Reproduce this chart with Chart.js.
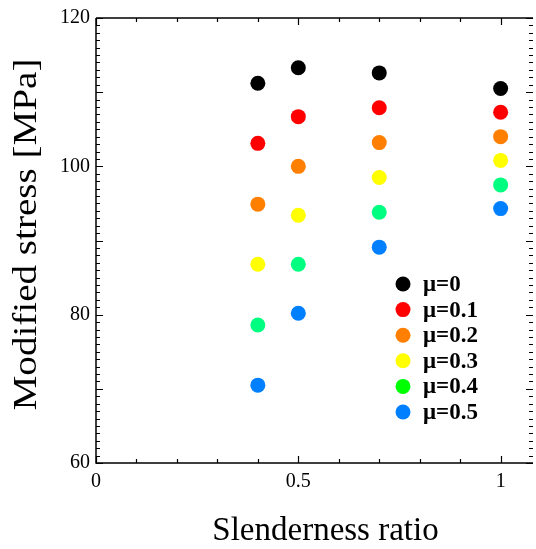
<!DOCTYPE html>
<html>
<head>
<meta charset="utf-8">
<script src="https://cdn.jsdelivr.net/npm/chart.js@4"></script>
<style>
  html, body { margin: 0; padding: 0; background: #fff; }
  #wrap { width: 536px; height: 549px; }
</style>
</head>
<body>
<div id="wrap"><canvas id="grafico"></canvas></div>
<script>
// datos
const ratios = [0.4, 0.5, 0.7, 1.0];
const mu0  = [111.2, 113.3, 112.6, 110.5];
const mu01 = [103.1, 106.7, 107.9, 107.3];
const mu02 = [94.9, 100.0, 103.2, 104.0];
const mu03 = [86.8, 93.4, 98.5, 100.8];
const mu04 = [78.6, 86.8, 93.8, 97.5];
const mu05 = [70.5, 80.2, 89.1, 94.3];

const etiquetas = ['μ=0', 'μ=0.1', 'μ=0.2', 'μ=0.3', 'μ=0.4', 'μ=0.5'];
const series = [mu0, mu01, mu02, mu03, mu04, mu05];
const colores = ['#000000', '#ff0000', '#ff8000', '#ffff00', '#00ff80', '#0080ff'];
const coloresLeyenda = ['#000000', '#ff0000', '#ff8000', '#ffff00', '#00ff00', '#0080ff'];

const xTicks = [0, 0.5, 1];
const yTicks = [60, 80, 100, 120];

const serif = "'Liberation Serif', 'Times New Roman', serif";

// marco, ticks hacia adentro, titulos y leyenda dentro del area
const marcoPlugin = {
    id: 'marco',
    afterDraw(chart) {
        const ctx = chart.ctx;
        const a = chart.chartArea;
        const xs = chart.scales.x;
        const ys = chart.scales.y;
        ctx.save();
        ctx.strokeStyle = '#000';
        ctx.lineWidth = 1.5;
        ctx.beginPath();
        ctx.moveTo(a.left, a.top);
        ctx.lineTo(a.left, a.bottom);
        ctx.lineTo(a.right, a.bottom);
        ctx.moveTo(a.left, a.top);
        ctx.lineTo(a.right, a.top);
        ctx.stroke();

        ctx.lineWidth = 1.2;
        ctx.beginPath();
        for (let v = 60; v <= 120; v++) {
            const py = Math.round(ys.getPixelForValue(v)) + 0.5;
            const len = v % 10 === 0 ? 7 : 4;
            ctx.moveTo(a.left, py);
            ctx.lineTo(a.left + len, py);
            ctx.moveTo(a.right, py);
            ctx.lineTo(a.right - len, py);
        }
        for (let i = 0; i <= 10; i++) {
            const v = i / 10;
            const px = Math.round(xs.getPixelForValue(v)) + 0.5;
            const len = i % 5 === 0 ? 7 : 4;
            ctx.moveTo(px, a.bottom);
            ctx.lineTo(px, a.bottom - len);
            ctx.moveTo(px, a.top);
            ctx.lineTo(px, a.top + len);
        }
        ctx.stroke();

        ctx.fillStyle = '#000';
        ctx.textAlign = 'center';
        ctx.textBaseline = 'middle';

        // titulo del eje X
        ctx.font = '33px ' + serif;
        ctx.fillText('Slenderness ratio', (a.left + a.right) / 2 + 11, 531);

        // titulo del eje Y (algo estirado como en la figura)
        ctx.save();
        ctx.translate(27, (a.top + a.bottom) / 2 - 6);
        ctx.rotate(-Math.PI / 2);
        ctx.scale(1.15, 1);
        ctx.font = '34px ' + serif;
        ctx.fillText('Modified stress [MPa]', 0, 0);
        ctx.restore();

        // leyenda
        const lx = a.right - 130;
        const ly = a.top + 266;
        ctx.font = 'bold 23px ' + serif;
        ctx.textAlign = 'left';
        etiquetas.forEach((t, i) => {
            const y = ly + i * 25.6;
            ctx.fillStyle = coloresLeyenda[i];
            ctx.beginPath();
            ctx.arc(lx, y, 7.5, 0, Math.PI * 2);
            ctx.fill();
            ctx.fillStyle = '#000';
            ctx.fillText(t, lx + 20, y + 1);
        });
        ctx.restore();
    }
};

const ctx = document.getElementById('grafico').getContext('2d');
new Chart(ctx, {
    type: 'scatter',
    data: {
        datasets: series.map((s, i) => ({
            label: etiquetas[i],
            data: s.map((v, j) => ({ x: ratios[j], y: v })),
            backgroundColor: colores[i],
            borderWidth: 0,
            pointRadius: 7.5,
            pointHoverRadius: 7.5
        }))
    },
    options: {
        responsive: true,
        maintainAspectRatio: false,
        animation: false,
        layout: { autoPadding: false, padding: { top: 18, right: 3, left: 0, bottom: 0 } },
        plugins: {
            legend: { display: false },
            tooltip: { enabled: false }
        },
        scales: {
            x: {
                type: 'linear',
                min: 0,
                max: 1.08,
                afterBuildTicks: s => { s.ticks = xTicks.map(v => ({ value: v })); },
                afterFit: s => { s.height = 86; },
                grid: { display: false, drawTicks: false },
                border: { display: false },
                ticks: {
                    color: '#000',
                    padding: 7,
                    maxRotation: 0,
                    font: { family: serif, size: 20 },
                    callback: v => String(v)
                },
                title: { display: false }
            },
            y: {
                min: 60,
                max: 120,
                afterBuildTicks: s => { s.ticks = yTicks.map(v => ({ value: v })); },
                afterFit: s => { s.width = 96; },
                grid: { display: false, drawTicks: false },
                border: { display: false },
                ticks: {
                    color: '#000',
                    padding: 6,
                    font: { family: serif, size: 20 },
                    callback: v => String(v)
                },
                title: { display: false }
            }
        }
    },
    plugins: [marcoPlugin]
});
</script>
</body>
</html>
